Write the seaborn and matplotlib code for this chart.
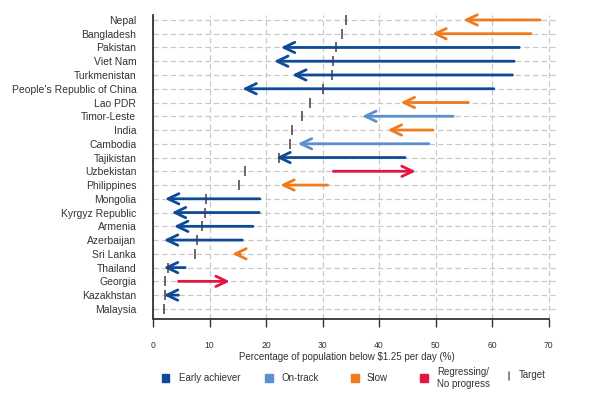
import numpy as np
import pandas as pd
import seaborn as sns
import matplotlib.pyplot as plt
from matplotlib.patches import Rectangle
from matplotlib.lines import Line2D

countries = ["Nepal", "Bangladesh", "Pakistan", "Viet Nam", "Turkmenistan",
             "People's Republic of China", "Lao PDR", "Timor-Leste", "India",
             "Cambodia", "Tajikistan", "Uzbekistan", "Philippines", "Mongolia",
             "Kyrgyz Republic", "Armenia", "Azerbaijan", "Sri Lanka", "Thailand",
             "Georgia", "Kazakhstan", "Malaysia"]
start_val = [68.5, 66.9, 64.8, 63.9, 63.6, 60.3, 55.8, 53.1, 49.5, 48.8, 44.6,
             31.9, 30.9, 18.9, 18.8, 17.7, 15.8, 15.4, 5.7, 4.5, 4.5, np.nan]
end_val = [54.9, 49.4, 22.6, 21.4, 24.6, 15.8, 43.8, 37.0, 41.5, 25.6, 21.8,
           46.5, 22.5, 2.1, 3.3, 3.7, 1.9, 14.0, 1.9, 13.6, 1.9, np.nan]
target_val = [34.1, 33.4, 32.3, 31.8, 31.7, 30.1, 27.8, 26.4, 24.6, 24.2, 22.3,
              16.2, 15.3, 9.4, 9.2, 8.7, 7.8, 7.5, 2.7, 2.2, 2.1, 2.0]
status = ["Slow", "Slow", "Early achiever", "Early achiever", "Early achiever",
          "Early achiever", "Slow", "On-track", "Slow", "On-track", "Early achiever",
          "Regressing", "Slow", "Early achiever", "Early achiever", "Early achiever",
          "Early achiever", "Slow", "Early achiever", "Regressing", "Early achiever",
          "None"]
x_ticks = [0, 10, 20, 30, 40, 50, 60, 70]

colors = {"Early achiever": "#0d4a97", "On-track": "#5b8fcf",
          "Slow": "#ef7b1e", "Regressing": "#e2173f"}
target_color = "#4a3a44"

sns.set_theme(style="white")
plt.rcParams["font.family"] = ["Liberation Sans", "DejaVu Sans"]

df = pd.DataFrame({"country": countries, "start": start_val, "end": end_val,
                   "target": target_val, "status": status})
df["pos"] = np.arange(len(df))

W, H = 600, 395
fig = plt.figure(figsize=(6, 3.95), dpi=100)
ax = fig.add_axes([153 / W, 1 - 318.5 / H, (556 - 153) / W, (318.5 - 15) / H])

# arrows
for _, r in df.iterrows():
    if r["status"] in colors and not np.isnan(r["start"]):
        ax.annotate("", xy=(r["end"], r["pos"]), xytext=(r["start"], r["pos"]),
                    arrowprops=dict(arrowstyle="->,head_length=0.65,head_width=0.31",
                                    color=colors[r["status"]], lw=2.0,
                                    shrinkA=0, shrinkB=0), zorder=3)

# targets
sns.scatterplot(data=df, x="target", y="pos", marker="|", s=55, linewidth=1.1,
                color=target_color, ax=ax, legend=False, zorder=4)

ax.set_xlim(0, 71.3)
ax.set_ylim(21.7, -0.36)
ax.set_xticks(x_ticks)
ax.set_xticklabels([str(t) for t in x_ticks])
ax.set_yticks(df["pos"])
ax.set_yticklabels(df["country"])
ax.set_xlabel("")
ax.set_ylabel("")
ax.grid(True, linestyle=(0, (4.3, 2.6)), color="#c9c9c9", lw=0.9)
ax.set_axisbelow(True)
for s in ["top", "right"]:
    ax.spines[s].set_visible(False)
ax.spines["left"].set_color("#222222")
ax.spines["left"].set_linewidth(1.2)
ax.spines["bottom"].set_color("#222222")
ax.spines["bottom"].set_linewidth(1.2)
ax.spines["bottom"].set_bounds(0, 70)
ax.tick_params(axis="x", direction="out", length=5.5, width=1, color="#333333",
               pad=10.5, labelsize=6.2, labelcolor="#333333", bottom=True)
ax.tick_params(axis="y", length=0, pad=12, labelsize=7.5, labelcolor="#333333")

fig.text(346.7 / W, 1 - 356.5 / H, "Percentage of population below $1.25 per day (%)",
         ha="center", va="center", fontsize=7, color="#333333")

# legend
ly = 378
items = [("Early achiever", colors["Early achiever"], 165.7, 179),
         ("On-track", colors["On-track"], 269, 282),
         ("Slow", colors["Slow"], 355, 367),
         ("Regressing/\nNo progress", colors["Regressing"], 424, 437)]
sq = 7.5
for lab, c, cx, tx in items:
    fig.add_artist(Rectangle(((cx - sq / 2) / W, 1 - (ly + sq / 2) / H), sq / W, sq / H,
                             transform=fig.transFigure, color=c))
    fig.text(tx / W, 1 - ly / H, lab, ha="left", va="center", fontsize=7,
             color="#333333", linespacing=1.3)
fig.add_artist(Line2D([509 / W, 509 / W], [1 - 372 / H, 1 - 380 / H],
                      transform=fig.transFigure, color="#6a7a6a", lw=1.2))
fig.text(519 / W, 1 - 375.5 / H, "Target", ha="left", va="center", fontsize=7,
         color="#333333")

fig.savefig("out.png", dpi=100)
